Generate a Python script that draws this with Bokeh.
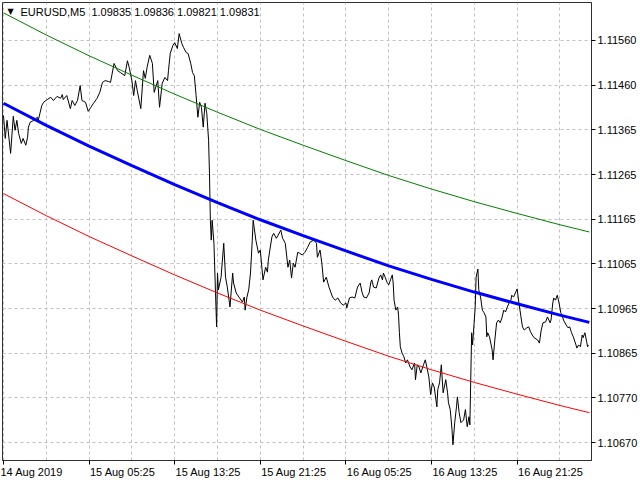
from bokeh.plotting import figure
from bokeh.models import Range1d, FixedTicker, Label
from bokeh.embed import file_html
from bokeh.resources import INLINE

# bar index (5-minute bars) and close prices
bar = [0,2,4,8,11,13,15,17,20,22,25,27,28,30,34,38,39,43,45,49,53,56,60,64,66,67,71,75,77,80,83,86,88,92,95,98,101,105,108,111,114,118,
       120,124,128,131,136,139,141,144,146,148,150,154,157,159,161,164,167,169,173,175,178,181,184,185,187,190,192,195,197,200,202,205,207,210,212,214,216,218,220,222,224,226,228,230,231,232,233,
       234,236,239,240,241,244,247,249,251,254,257,258,261,264,268,270,271,273,275,277,279,280,283,286,288,291,294,296,297,301,303,306,308,311,313,316,319,321,323,325,327,330,332,335,338,341,344,348,351,352,355,357,359,362,365,369,372,375,378,
       381,384,385,388,391,394,397,400,402,404,407,410,412,413,415,418,421,423,425,426,428,430,432,434,436,437,438,440,442,443,444,445,447,449,451,453,456,458,461,462,464,466,468,471,473,475,477,479,481,483,486,487,489,491,493,496,498,499,501,503,504,506,508,509,511,513,516,518,520,522,523,525,
       526,527,529,530,532,533,535,537,539,541,542,543,545,548,549,551,553,555,557,559,561,563,565,567,569,570,572,574,576,578,580,582,584,587,589,591,593,595,599,601,603,605,608,610,613,614,616,617,619,621,623,625,627,628,631,633,635,637,639,642,643,645,647,649,650,652,654,655,656]

close = [1.11394,1.11343,1.11383,1.11310,1.11392,1.11361,1.11383,1.11354,1.11332,1.11343,1.11328,1.11345,1.11368,1.11379,1.11383,1.11390,1.11383,1.11416,1.11423,1.11429,1.11434,1.11427,1.11436,1.11432,1.11440,1.11429,1.11438,1.11409,1.11427,1.11416,1.11427,1.11460,1.11427,1.11423,1.11403,1.11412,1.11421,1.11432,1.11445,1.11467,1.11471,1.11469,
         1.11467,1.11509,1.11493,1.11489,1.11482,1.11515,1.11500,1.11471,1.11438,1.11471,1.11449,1.11409,1.11493,1.11476,1.11500,1.11527,1.11509,1.11445,1.11471,1.11412,1.11465,1.11478,1.11471,1.11493,1.11531,1.11549,1.11555,1.11542,1.11575,1.11553,1.11544,1.11533,1.11531,1.11509,1.11489,1.11482,1.11438,1.11390,1.11423,1.11412,1.11368,1.11421,1.11398,1.11339,1.11266,1.11162,1.11118,
         1.11162,1.11111,1.10926,1.11045,1.11008,1.11036,1.11111,1.11036,1.11014,1.10970,
         1.11045,1.11023,1.11001,1.10992,1.10981,1.10992,1.10963,1.10992,1.11008,1.11045,
         1.11118,1.11162,1.11118,1.11089,1.11096,1.11030,1.11058,1.11047,1.11074,1.11125,
         1.11133,1.11122,1.11129,1.11140,1.11122,1.11111,1.11058,1.11074,1.11034,1.11067,
         1.11058,1.11091,1.11089,1.11085,1.11091,1.11102,1.11114,1.11118,1.11111,1.11080,
         1.11096,1.11067,1.11025,1.11036,1.11014,1.10992,1.10985,1.10990,1.10979,
         1.10974,1.10979,1.10968,1.10990,1.10992,1.10990,1.11014,1.11023,1.11003,1.10992,
         1.10990,1.11001,1.11025,1.11030,1.11014,1.11012,1.11034,1.11041,1.11030,1.11045,
         1.11036,1.11025,1.11019,1.11030,1.11041,1.11023,1.10985,1.10963,1.10970,1.10952,
         1.10913,1.10882,1.10868,1.10860,1.10846,1.10853,1.10837,1.10831,1.10846,1.10809,
         1.10842,1.10837,1.10824,1.10842,1.10853,1.10835,1.10815,1.10776,1.10802,1.10793,
         1.10749,1.10787,1.10802,1.10842,1.10780,1.10809,1.10780,1.10758,1.10743,1.10698,
         1.10665,1.10714,1.10749,1.10771,1.10736,1.10714,1.10720,1.10743,1.10705,1.10727,
         1.10709,1.10913,
         1.10886,1.10913,1.10970,1.11036,1.11054,1.11008,1.10992,1.10963,1.10957,1.10948,
         1.10904,1.10913,1.10904,1.10875,1.10853,1.10897,1.10935,1.10941,1.10935,1.10946,
         1.10963,1.10959,1.10970,1.10979,1.10985,1.10996,1.10992,1.11001,1.11010,1.10979,
         1.10952,1.10926,1.10919,1.10924,1.10926,1.10915,1.10908,1.10902,1.10897,1.10890,
         1.10919,1.10935,1.10937,1.10948,1.10935,1.10941,1.10979,1.10990,1.10985,1.10996,
         1.10979,1.10957,1.10948,1.10941,1.10930,1.10924,1.10926,1.10913,1.10904,1.10886,
         1.10879,1.10886,1.10882,1.10908,1.10902,1.10913,1.10893,1.10882,1.10886]

# regression channel (middle, upper, lower) read at grid bars
chan_bar = [0, 48, 96, 144, 192, 240, 288, 336, 384, 432, 480, 528, 576, 624, 657]
chan_mid = [1.11421, 1.11372, 1.11326, 1.11283, 1.11241, 1.11201, 1.11163, 1.11128, 1.11094, 1.11061, 1.11031, 1.11003, 1.10977, 1.10952, 1.10936]
chan_up = [1.11621, 1.11572, 1.11526, 1.11483, 1.11441, 1.11401, 1.11363, 1.11328, 1.11294, 1.11261, 1.11231, 1.11203, 1.11177, 1.11152, 1.11136]
chan_lo = [1.11221, 1.11172, 1.11126, 1.11083, 1.11041, 1.11001, 1.10963, 1.10928, 1.10894, 1.10861, 1.10831, 1.10803, 1.10777, 1.10752, 1.10736]

# axis ticks
time_ticks = [0, 96, 192, 288, 384, 480, 576]
time_labels = ["14 Aug 2019", "15 Aug 05:25", "15 Aug 13:25", "15 Aug 21:25", "16 Aug 05:25", "16 Aug 13:25", "16 Aug 21:25"]
time_minor = [48, 144, 240, 336, 432, 528, 624]
price_ticks = [1.11560, 1.114607, 1.113618, 1.112631, 1.111641, 1.110652, 1.109662, 1.108673, 1.107686, 1.106696]
price_labels = ["1.11560", "1.11460", "1.11365", "1.11265", "1.11165", "1.11065", "1.10965", "1.10865", "1.10770", "1.10670"]

FONT = "Liberation Sans"
GRID = "#c0c0c0"
PAD = "\u00a0" * 22  # left padding so centred time labels start at their tick

p = figure(width=640, height=480, output_backend="svg", toolbar_location=None,
           x_range=Range1d(-1.1, 659.4), y_range=Range1d(1.106302, 1.116439),
           y_axis_location="right", min_border=0, min_border_left=2, min_border_right=49,
           min_border_top=2, min_border_bottom=19, background_fill_color="white",
           border_fill_color="white")
p.outline_line_color = "#303030"
p.outline_line_width = 1

p.xaxis.ticker = FixedTicker(ticks=time_ticks, minor_ticks=time_minor)
p.xaxis.major_label_overrides = {t: (lab if i == 0 else PAD + lab)
                                 for i, (t, lab) in enumerate(zip(time_ticks, time_labels))}
p.yaxis.ticker = FixedTicker(ticks=price_ticks)
p.yaxis.major_label_overrides = dict(zip(price_ticks, price_labels))

for ax in (p.xaxis, p.yaxis):
    ax.axis_line_color = "#303030"
    ax.major_tick_line_color = "black"
    ax.major_tick_in = 0
    ax.major_tick_out = 4
    ax.minor_tick_line_color = None
    ax.major_label_text_font = FONT
    ax.major_label_text_font_size = "11px"
    ax.major_label_text_color = "black"
p.xaxis.major_label_standoff = 1
p.yaxis.major_label_standoff = 2

for g in (p.xgrid, p.ygrid):
    g.grid_line_color = GRID
    g.grid_line_dash = "3 3"
p.xgrid.minor_grid_line_color = GRID
p.xgrid.minor_grid_line_dash = "3 3"

p.line(bar, close, line_color="black", line_width=1)
p.line(chan_bar, chan_up, line_color="#008000", line_width=1)
p.line(chan_bar, chan_lo, line_color="#ff0000", line_width=1)
p.line(chan_bar, chan_mid, line_color="#0000ff", line_width=3)

p.add_layout(Label(x=8, y=449, x_units="screen", y_units="screen", text="\u25bc",
                   text_font="DejaVu Sans", text_font_size="8px", text_color="black",
                   text_align="center", text_baseline="middle"))
p.add_layout(Label(x=18, y=448.5, x_units="screen", y_units="screen",
                   text="EURUSD,M5\u00a0\u00a01.09835 1.09836 1.09821 1.09831",
                   text_font=FONT, text_font_size="11px", text_color="black",
                   text_align="left", text_baseline="middle"))

open("out.html", "w").write(file_html(p, INLINE))
